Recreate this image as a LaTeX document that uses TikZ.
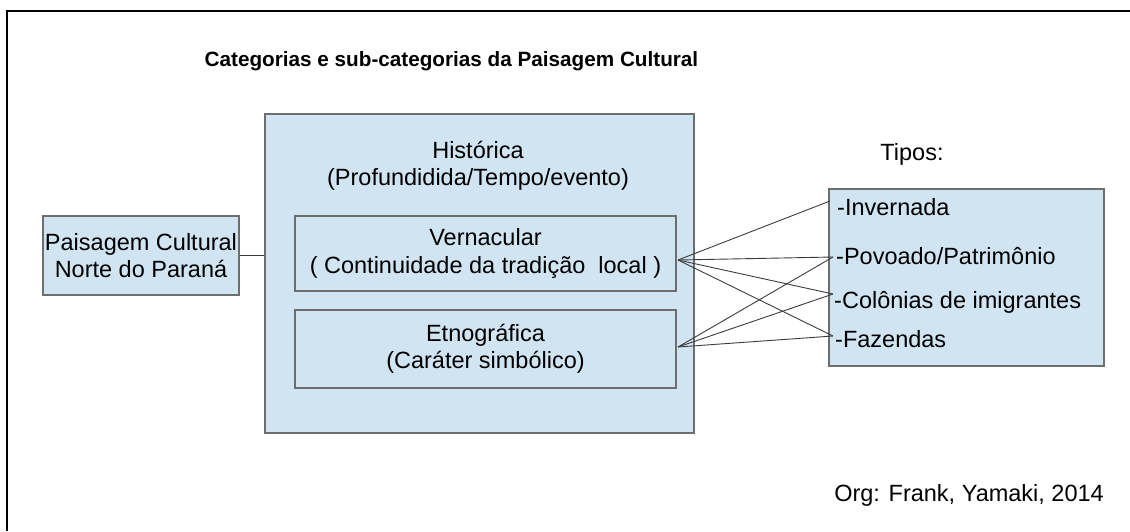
\documentclass[tikz,border=0pt]{standalone}
\usepackage{fontspec}
\setmainfont{Liberation Sans}
\usetikzlibrary{calc, positioning}
\definecolor{caixa}{HTML}{D0E4F2}
\definecolor{borda}{HTML}{6E6E6E}
\definecolor{linha}{HTML}{3C3C3C}

\begin{document}
\begin{tikzpicture}[x=1pt, y=-1pt,
                    bloco/.style={draw = borda, fill = caixa, line width = 1.2pt, inner sep = 0pt},
                    texto/.style={align = center, inner sep = 0pt, font = \fontsize{23.5}{27.5}\selectfont},
                    item/.style={anchor = west, inner sep = 0pt, font = \fontsize{23.5}{27.5}\selectfont},
                    liga/.style={draw = linha, line width = 0.9pt}
                ]
                \useasboundingbox (0,0) rectangle (1130,531);
                \draw[line width = 2.2pt] (7,531) -- (7,11) -- (1130,11);
                \node[inner sep = 0pt, font = \fontsize{20.7}{24}\selectfont\bfseries] (titulo) at (451.5,61) {Categorias e sub-categorias da Paisagem Cultural};

                \node[bloco, minimum width = 196, minimum height = 79] (paisagem) at (141,255.5) {};
                \node[texto] at (paisagem) {Paisagem Cultural\\Norte do Paraná};

                \node[bloco, minimum width = 429, minimum height = 319] (historica) at (479.5,273.5) {};
                \node[texto] (historicatxt) at (478,166) {Histórica\\(Profundidida/Tempo/evento)};
                \node[bloco, minimum width = 381, minimum height = 75] (vernacular) at (485.5,253.5) {};
                \node[texto] at (vernacular) {Vernacular\\( Continuidade da tradição~ local )};
                \node[bloco, minimum width = 381, minimum height = 78] (etnografica) at (485.5,349) {};
                \node[texto] at (etnografica) {Etnográfica\\(Caráter simbólico)};

                \node[texto] (tipos) at (912,154) {Tipos:};
                \node[bloco, minimum width = 275, minimum height = 177] (tiposbox) at (966.5,277.5) {};
                \node[item] (invernada) at (837,207) {-Invernada};
                \node[item] (povoado) at (836,256) {-Povoado/Patrimônio};
                \node[item] (colonias) at (834,302) {-Colônias de imigrantes};
                \node[item] (fazendas) at (835,339) {-Fazendas};

                \node[texto] (org) at (969,495) {Org: Frank, Yamaki, 2014};

                \coordinate (vo) at (678,260);
                \coordinate (eo) at (678,347);
                \coordinate (ti) at ($(invernada.west)+(-7,-6)$);
                \coordinate (tp) at ($(povoado.west)+(-3,1)$);
                \coordinate (tc) at ($(colonias.west)+(-1,-8)$);
                \coordinate (tf) at ($(fazendas.west)+(-2,-3)$);

                \draw[liga] (paisagem.east) -- (paisagem.east -| historica.west);
                \foreach \t in {ti, tp, tc, tf}
                    \draw[liga] (vo) -- (\t);
                \foreach \t in {tp, tc, tf}
                    \draw[liga] (eo) -- (\t);
            \end{tikzpicture}
\end{document}
